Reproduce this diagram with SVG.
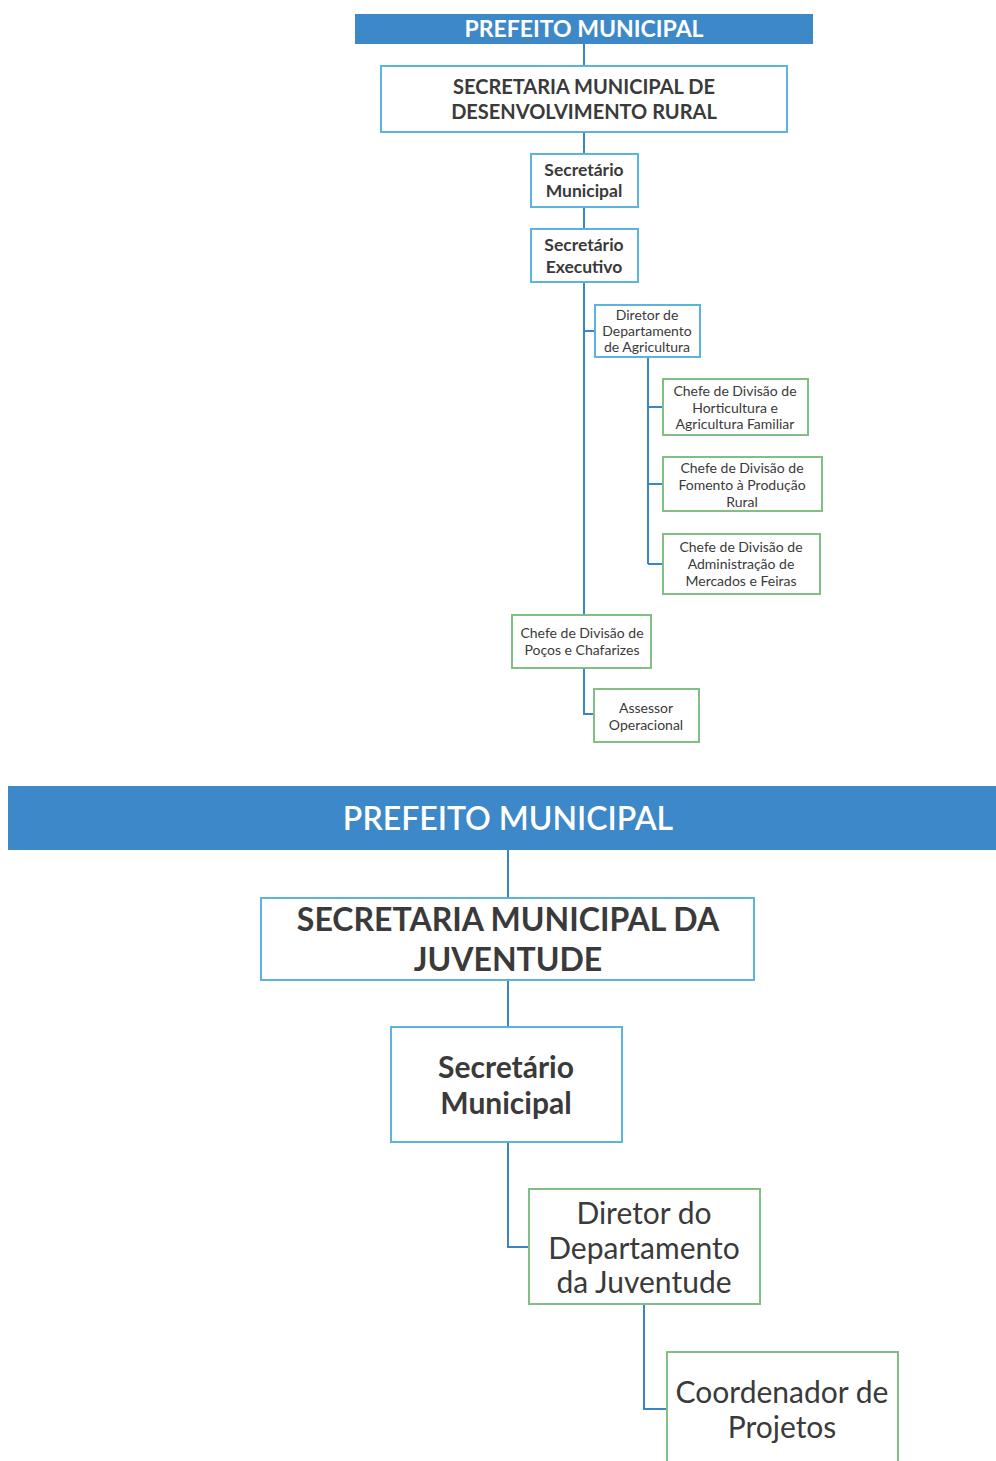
<svg xmlns="http://www.w3.org/2000/svg" width="996" height="1461" viewBox="0 0 996 1461">
<style>
text{font-family:Lato,"Open Sans","Liberation Sans",sans-serif;fill:#3a3a3a;text-anchor:middle;dominant-baseline:central}
.bar{fill:#3d88c8}
.bt{fill:#ffffff}
.bl{fill:#ffffff;stroke:#5cb3dc;stroke-width:2}
.gr{fill:#ffffff;stroke:#82bf84;stroke-width:2}
.b{font-weight:bold}
.s{font-size:14px}
.c{fill:none;stroke:#3d84c4;stroke-width:2}
</style>
<rect width="996" height="1461" fill="#ffffff"/>
<g id="connectors">
<path class="c" d="M584 44V66M584 132V154M584 207V229M584 282V615M584 331H595M648 357V564M648 407H663M648 484H663M648 564H663M584 668V714H594"/>
<path class="c" d="M508 850V898M508 980V1027M508 1142V1247H529M644 1304V1409H667"/>
</g>
<g id="prefeito1">
<rect class="bar" x="355" y="14" width="458" height="30"/>
<text class="bt b" x="584" y="28" font-size="23">PREFEITO MUNICIPAL</text>
</g>
<g id="sec-rural">
<rect class="bl" x="381" y="66" width="406" height="66"/>
<text class="b" x="584" y="86" font-size="20">SECRETARIA MUNICIPAL DE</text>
<text class="b" x="584" y="111" font-size="20">DESENVOLVIMENTO RURAL</text>
</g>
<g id="secretario-municipal1">
<rect class="bl" x="531" y="154" width="107" height="53"/>
<text class="b" x="584" y="169" font-size="17.5">Secretário</text>
<text class="b" x="584" y="190" font-size="17.5">Municipal</text>
</g>
<g id="secretario-executivo">
<rect class="bl" x="531" y="229" width="107" height="53"/>
<text class="b" x="584" y="244" font-size="17.5">Secretário</text>
<text class="b" x="584" y="266" font-size="17.5">Executivo</text>
</g>
<g id="diretor-agricultura">
<rect class="bl" x="595" y="305" width="105" height="52"/>
<text class="s" x="647" y="314">Diretor de</text>
<text class="s" x="647" y="330">Departamento</text>
<text class="s" x="647" y="346">de Agricultura</text>
</g>
<g id="chefe-horticultura">
<rect class="gr" x="663" y="379" width="145" height="56"/>
<text class="s" x="735" y="390">Chefe de Divisão de</text>
<text class="s" x="735" y="407">Horticultura e</text>
<text class="s" x="735" y="423">Agricultura Familiar</text>
</g>
<g id="chefe-fomento">
<rect class="gr" x="663" y="457" width="159" height="54"/>
<text class="s" x="742" y="467">Chefe de Divisão de</text>
<text class="s" x="742" y="484">Fomento à Produção</text>
<text class="s" x="742" y="501">Rural</text>
</g>
<g id="chefe-mercados">
<rect class="gr" x="663" y="534" width="157" height="60"/>
<text class="s" x="741" y="546">Chefe de Divisão de</text>
<text class="s" x="741" y="563">Administração de</text>
<text class="s" x="741" y="580">Mercados e Feiras</text>
</g>
<g id="chefe-pocos">
<rect class="gr" x="512" y="615" width="139" height="53"/>
<text class="s" x="582" y="632">Chefe de Divisão de</text>
<text class="s" x="582" y="649">Poços e Chafarizes</text>
</g>
<g id="assessor">
<rect class="gr" x="594" y="689" width="105" height="53"/>
<text class="s" x="646" y="707">Assessor</text>
<text class="s" x="646" y="724">Operacional</text>
</g>
<g id="prefeito2">
<rect class="bar" x="8" y="786" width="988" height="64"/>
<text class="bt" x="508" y="817" font-size="32" font-weight="600">PREFEITO MUNICIPAL</text>
</g>
<g id="sec-juventude">
<rect class="bl" x="261" y="898" width="493" height="82"/>
<text class="b" x="508" y="918" font-size="32">SECRETARIA MUNICIPAL DA</text>
<text class="b" x="508" y="958" font-size="32">JUVENTUDE</text>
</g>
<g id="secretario-municipal2">
<rect class="bl" x="391" y="1027" width="231" height="115"/>
<text class="b" x="506" y="1066" font-size="30">Secretário</text>
<text class="b" x="506" y="1102" font-size="30">Municipal</text>
</g>
<g id="diretor-juventude">
<rect class="gr" x="529" y="1189" width="231" height="115"/>
<text x="644" y="1212" font-size="30">Diretor do</text>
<text x="644" y="1247" font-size="30">Departamento</text>
<text x="644" y="1281" font-size="30">da Juventude</text>
</g>
<g id="coordenador">
<rect class="gr" x="667" y="1352" width="231" height="120"/>
<text x="782" y="1391" font-size="30">Coordenador de</text>
<text x="782" y="1426" font-size="30">Projetos</text>
</g>
</svg>
